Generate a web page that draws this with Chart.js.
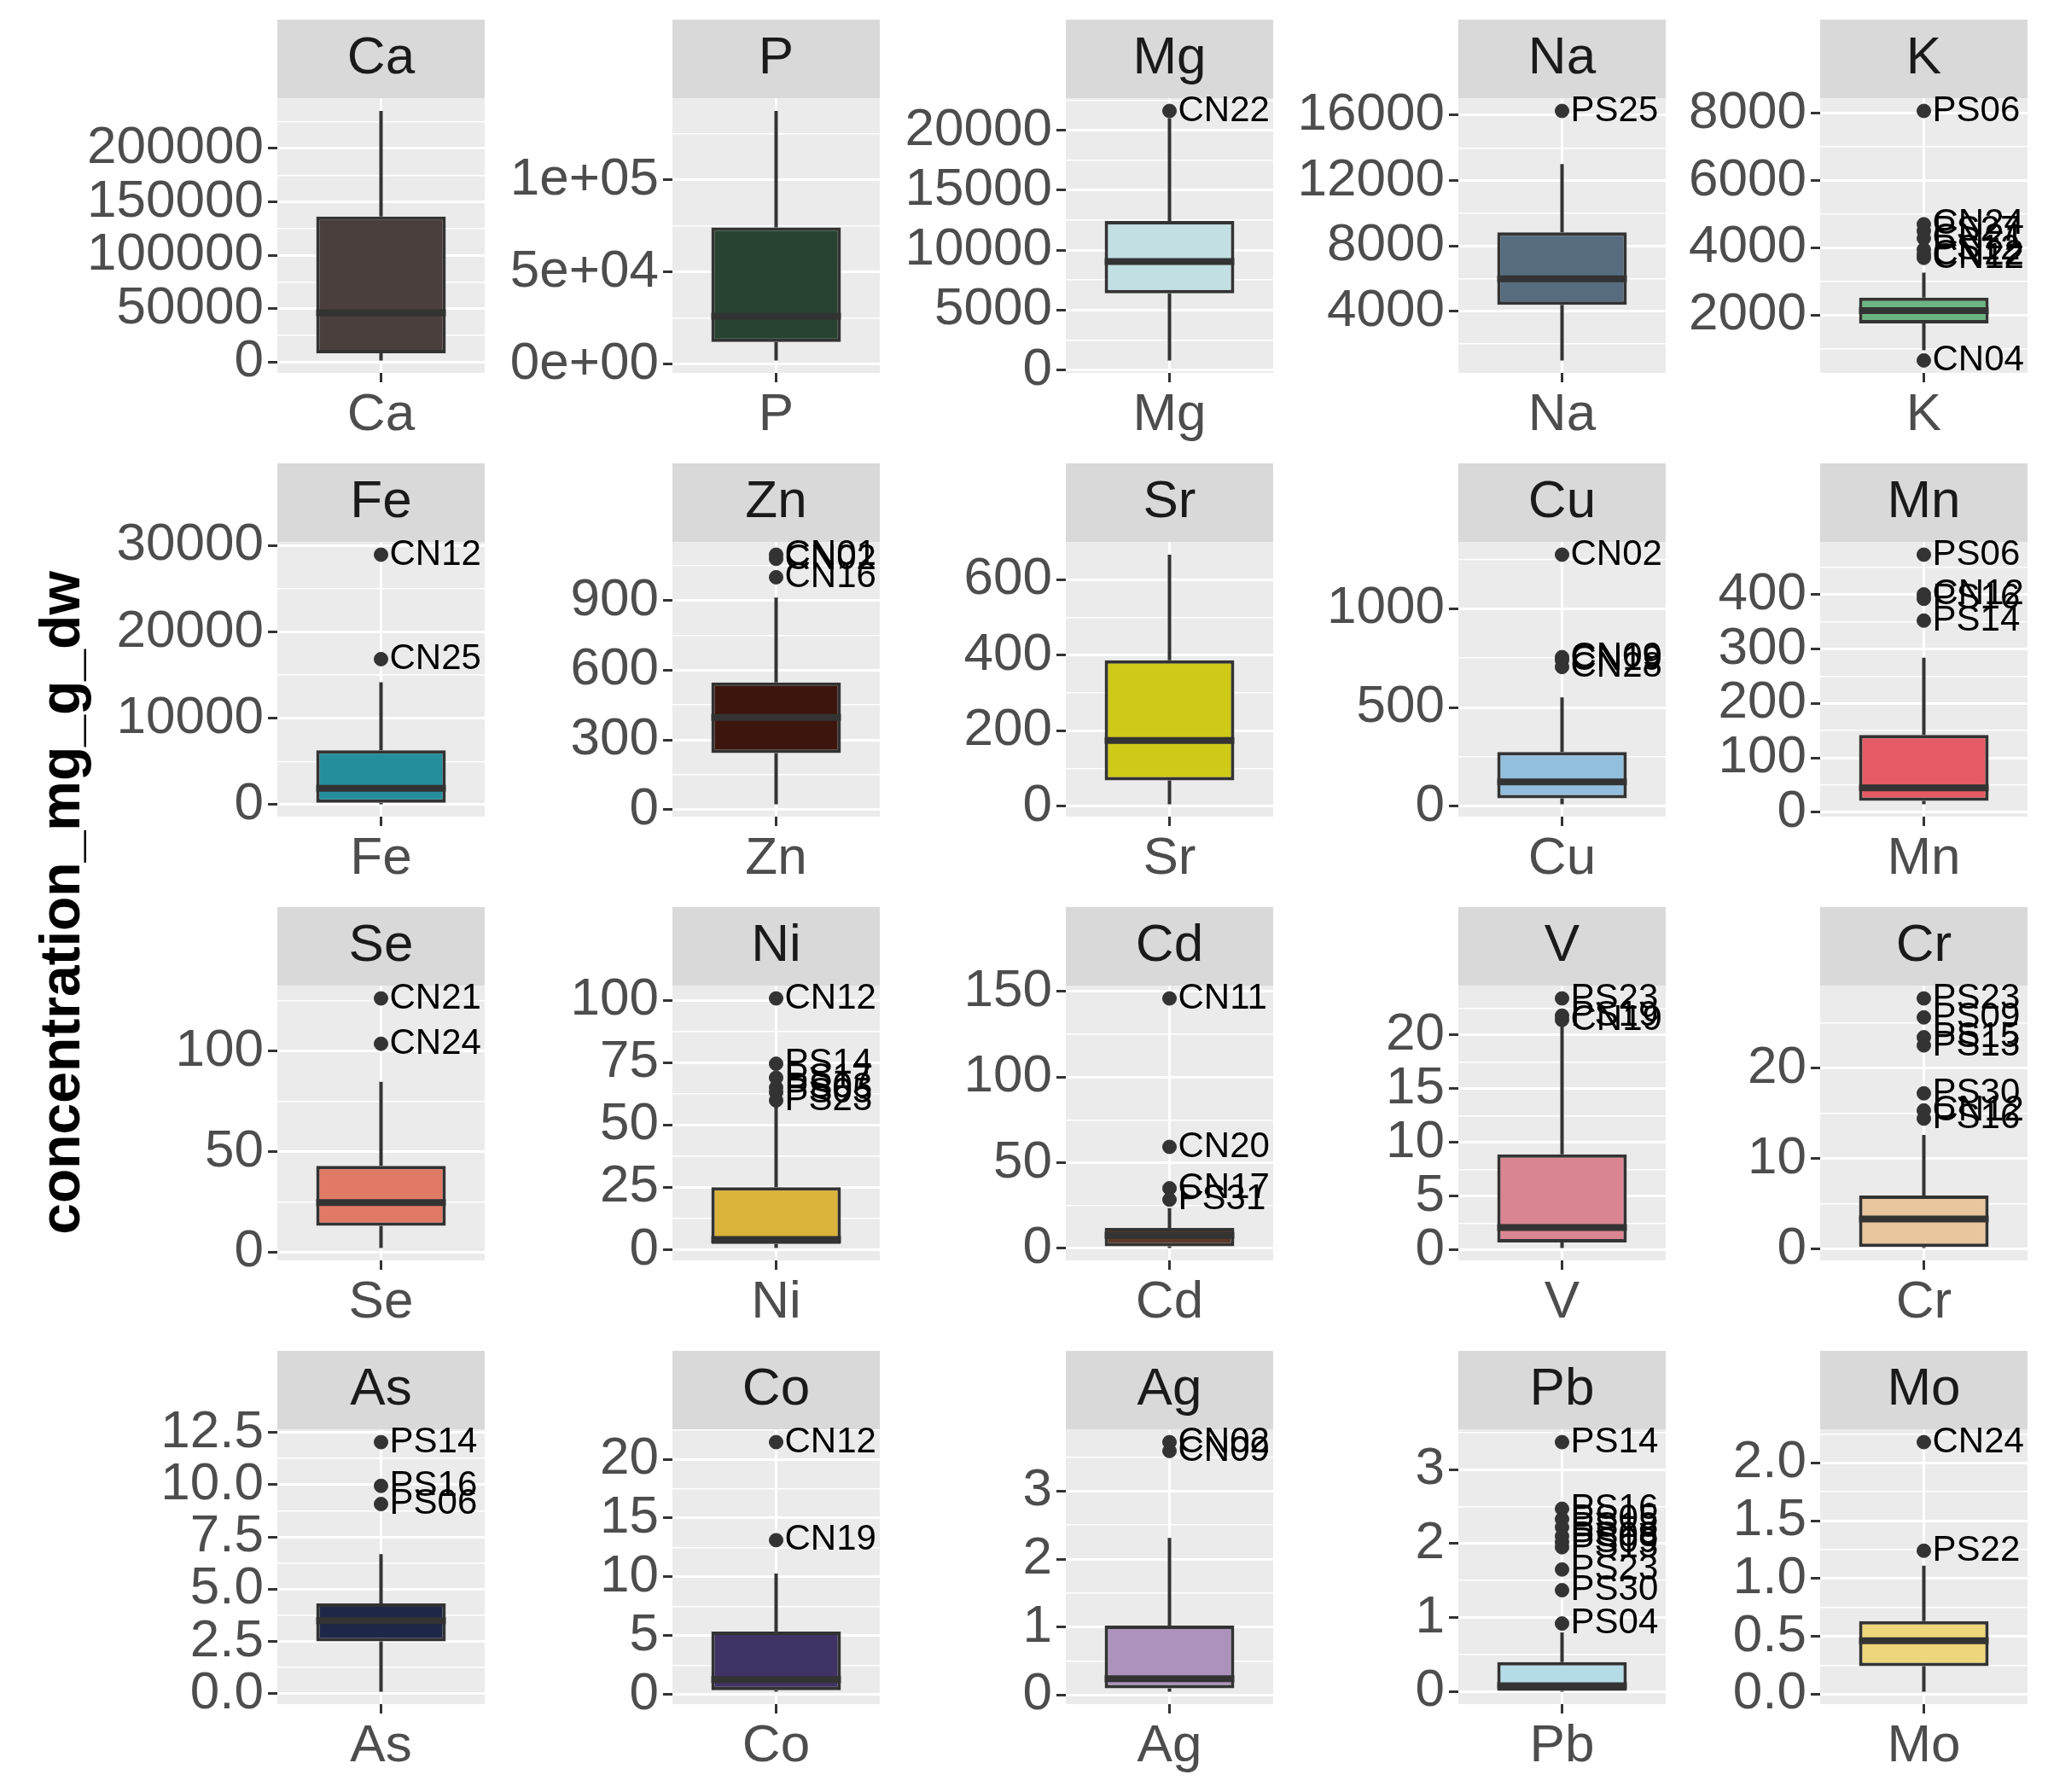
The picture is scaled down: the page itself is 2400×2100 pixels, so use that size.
<!DOCTYPE html>
<html>
<head>
<meta charset="utf-8">
<script src="https://cdn.jsdelivr.net/npm/chart.js@4.4.0/dist/chart.umd.min.js"></script>
<style>
  body { margin: 0; background: #ffffff; }
  #wrap { position: relative; width: 2400px; height: 2100px; overflow: hidden; }
  #wrap canvas { position: absolute; }
  #ytitle {
    position: absolute; left: -428px; top: 1018px; width: 1000px; height: 80px;
    line-height: 80px; text-align: center; transform: rotate(-90deg);
    font: bold 66px "Liberation Sans", Arial, sans-serif; color: #000000;
  }
</style>
</head>
<body>
<div id="wrap"><div id="ytitle">concentration_mg_g_dw</div></div>
<script>
// one box per element
const elements = ['Ca','P','Mg','Na','K','Fe','Zn','Sr','Cu','Mn','Se','Ni','Cd','V','Cr','As','Co','Ag','Pb','Mo'];
const whiskerLow  = [1600, 2000, 800, 980, 950, 50, 24, 5, 10, 15, 2, 0.7, 0.3, 0.2, 0.1, 0.1, 0.25, 0.05, 0, 0.02];
const quart1      = [8300, 12000, 6400, 4380, 1750, 200, 244, 68, 40, 21, 13, 2.3, 1.3, 0.7, 0.2, 2.5, 0.36, 0.10, 0.01, 0.24];
const medians     = [46200, 26000, 9040, 5980, 2130, 1900, 397, 174, 123, 45, 24.6, 4.1, 7.6, 2.1, 3.3, 3.49, 1.27, 0.24, 0.08, 0.46];
const quart3      = [136200, 74300, 12430, 8820, 2520, 6300, 547, 386, 274, 142, 42.9, 25, 11.9, 8.9, 5.9, 4.32, 5.36, 1.02, 0.40, 0.63];
const whiskerHigh = [235100, 137500, 21000, 13010, 3260, 14180, 912, 666, 551, 284, 84.7, 57.5, 23.5, 21.0, 12.6, 6.67, 10.28, 2.31, 0.80, 1.11];

const outlierValues = [
  [], [], [21600], [16260],
  [8070, 4700, 4500, 4280, 3950, 3800, 3700, 650],
  [28950, 16850], [1096, 1078, 999], [], [1274, 755, 740, 705], [473, 400, 392, 352],
  [126.3, 103.7], [100.7, 74.5, 68.9, 65, 63, 59.8], [146, 59.3, 35.1, 28.5], [23.4, 21.8, 21.4],
  [27.7, 25.6, 23.4, 22.5, 17.2, 15.3, 14.4],
  [12.03, 9.94, 9.07], [21.45, 13.12], [3.72, 3.59],
  [3.37, 2.47, 2.33, 2.22, 2.10, 2.02, 1.95, 1.65, 1.37, 0.92], [2.18, 1.24]
];
const outlierNames = [
  [], [], ['CN22'], ['PS25'],
  ['PS06','CN24','PS27','CN21','PS12','CN22','CN12','CN04'],
  ['CN12','CN25'], ['CN01','CN02','CN16'], [], ['CN02','CN09','CN19','CN28'], ['PS06','CN12','PS16','PS14'],
  ['CN21','CN24'], ['CN12','PS14','PS17','PS03','PS05','PS23'], ['CN11','CN20','CN17','PS31'], ['PS23','PS19','CN19'],
  ['PS23','PS09','PS15','PS13','PS30','CN12','PS16'],
  ['PS14','PS16','PS06'], ['CN12','CN19'], ['CN02','CN09'],
  ['PS14','PS16','PS05','PS18','PS08','PS09','PS13','PS23','PS30','PS04'], ['CN24','PS22']
];

const tickValues = [
  [0, 50000, 100000, 150000, 200000], [0, 50000, 100000], [0, 5000, 10000, 15000, 20000],
  [4000, 8000, 12000, 16000], [2000, 4000, 6000, 8000],
  [0, 10000, 20000, 30000], [0, 300, 600, 900], [0, 200, 400, 600], [0, 500, 1000], [0, 100, 200, 300, 400],
  [0, 50, 100], [0, 25, 50, 75, 100], [0, 50, 100, 150], [0, 5, 10, 15, 20], [0, 10, 20],
  [0, 2.5, 5, 7.5, 10, 12.5], [0, 5, 10, 15, 20], [0, 1, 2, 3], [0, 1, 2, 3], [0, 0.5, 1, 1.5, 2]
];
const tickLabels = [
  ['0','50000','100000','150000','200000'], ['0e+00','5e+04','1e+05'], ['0','5000','10000','15000','20000'],
  ['4000','8000','12000','16000'], ['2000','4000','6000','8000'],
  ['0','10000','20000','30000'], ['0','300','600','900'], ['0','200','400','600'], ['0','500','1000'], ['0','100','200','300','400'],
  ['0','50','100'], ['0','25','50','75','100'], ['0','50','100','150'], ['0','5','10','15','20'], ['0','10','20'],
  ['0.0','2.5','5.0','7.5','10.0','12.5'], ['0','5','10','15','20'], ['0','1','2','3'], ['0','1','2','3'], ['0.0','0.5','1.0','1.5','2.0']
];

const fills = ['#4B3F3E','#254330','#C2DFE3','#576D7F','#6AB581','#258E9C','#3C160D','#CECA17','#93BFDE','#E55A64',
               '#E07A64','#D9B33A','#5C3A2A','#D98592','#E9C69E','#1F2748','#3F3366','#AD93BC','#B4DCE6','#EED77A'];

// facet layout
const colLeft = [325, 788, 1249, 1709, 2133];
const rowTop = [23, 543, 1063, 1583];
const LEFTW = 300, PANELW = 243, RIGHTW = 20, STRIPH = 92, PANELH = 322, BOTTOMH = 80;
const FONT = '"Liberation Sans", Arial, sans-serif';

const wrap = document.getElementById('wrap');

elements.forEach((name, i) => {
  const canvas = document.createElement('canvas');
  const W = LEFTW + PANELW + RIGHTW, H = STRIPH + PANELH + BOTTOMH;
  canvas.width = W; canvas.height = H;
  canvas.style.width = W + 'px'; canvas.style.height = H + 'px';
  canvas.style.left = (colLeft[i % 5] - LEFTW) + 'px';
  canvas.style.top = rowTop[Math.floor(i / 5)] + 'px';
  wrap.appendChild(canvas);

  const all = [whiskerLow[i], whiskerHigh[i]].concat(outlierValues[i]);
  const lo = Math.min(...all), hi = Math.max(...all);
  const ymin = lo - 0.05 * (hi - lo), ymax = hi + 0.05 * (hi - lo);

  const tv = tickValues[i];
  const step = tv[1] - tv[0];
  const minors = [];
  for (let v = tv[0] - step / 2; v <= ymax; v += step) {
    if (v >= ymin && !tv.some(t => Math.abs(t - v) < step * 1e-6)) minors.push(v);
  }

  const panelBg = {
    id: 'panelBg',
    beforeDraw(chart) {
      const a = chart.chartArea, c = chart.ctx;
      c.save();
      c.fillStyle = '#D9D9D9';
      c.fillRect(a.left, 0, a.right - a.left, a.top);
      c.fillStyle = '#EBEBEB';
      c.fillRect(a.left, a.top, a.right - a.left, a.bottom - a.top);
      c.restore();
    }
  };
  const outlierText = {
    id: 'outlierText',
    afterDatasetsDraw(chart) {
      const meta = chart.getDatasetMeta(4), c = chart.ctx;
      c.save();
      c.font = '42px ' + FONT;
      c.fillStyle = '#000000';
      c.textBaseline = 'middle';
      c.textAlign = 'left';
      meta.data.forEach((pt, j) => c.fillText(outlierNames[i][j], pt.x + 10, pt.y));
      c.restore();
    }
  };

  new Chart(canvas, {
    type: 'bar',
    data: {
      labels: [name],
      datasets: [
        {
          type: 'bar', data: [[quart1[i], quart3[i]]], xAxisID: 'x', yAxisID: 'y', grouped: false,
          backgroundColor: fills[i], borderColor: '#333333', borderWidth: 4, borderSkipped: false,
          barPercentage: 0.625, categoryPercentage: 1, order: 4
        },
        {
          type: 'line', data: [{x: 1, y: whiskerLow[i]}, {x: 1, y: quart1[i]}], xAxisID: 'xl', yAxisID: 'y',
          borderColor: '#333333', borderWidth: 4, pointRadius: 0, order: 5
        },
        {
          type: 'line', data: [{x: 1, y: quart3[i]}, {x: 1, y: whiskerHigh[i]}], xAxisID: 'xl', yAxisID: 'y',
          borderColor: '#333333', borderWidth: 4, pointRadius: 0, order: 5
        },
        {
          type: 'line', data: [{x: 0.625, y: medians[i]}, {x: 1.375, y: medians[i]}], xAxisID: 'xl', yAxisID: 'y',
          borderColor: '#333333', borderWidth: 8, borderCapStyle: 'butt', pointRadius: 0, order: 2
        },
        {
          type: 'scatter', data: outlierValues[i].map(v => ({x: 1, y: v})), xAxisID: 'xl', yAxisID: 'y',
          backgroundColor: '#333333', borderColor: '#333333', pointRadius: 8, showLine: false, order: 1
        }
      ]
    },
    options: {
      responsive: false,
      devicePixelRatio: 1,
      animation: false,
      layout: { padding: { left: 0, right: RIGHTW, top: 0, bottom: 0 } },
      plugins: {
        legend: { display: false },
        tooltip: { enabled: false },
        title: {
          display: true, text: name, fullSize: false, color: '#1A1A1A',
          font: { family: FONT, size: 62, weight: 'normal', lineHeight: 1.2 },
          padding: { top: 9, bottom: 9 }
        }
      },
      scales: {
        x: {
          type: 'category', offset: true,
          grid: { offset: false, color: '#FFFFFF', lineWidth: 3, tickColor: '#333333', tickLength: 11, tickWidth: 3 },
          border: { display: false },
          ticks: { color: '#4D4D4D', font: { family: FONT, size: 62 }, padding: 2 },
          afterFit: s => { s.height = BOTTOMH; }
        },
        xl: { type: 'linear', min: 0.4, max: 1.6, offset: false, grace: 0, display: false },
        y: {
          type: 'linear', position: 'left', min: ymin, max: ymax,
          afterBuildTicks: s => { s.ticks = tv.map(v => ({value: v})); },
          grid: { color: '#FFFFFF', lineWidth: 3, tickColor: '#333333', tickLength: 11, tickWidth: 3 },
          border: { display: false },
          ticks: {
            autoSkip: false, color: '#4D4D4D', font: { family: FONT, size: 62 }, padding: 5,
            callback: (v, k) => tickLabels[i][k]
          },
          afterFit: s => { s.width = LEFTW; }
        },
        ym: {
          type: 'linear', position: 'left', min: ymin, max: ymax,
          afterBuildTicks: s => { s.ticks = minors.map(v => ({value: v})); },
          grid: { color: '#FFFFFF', lineWidth: 1.5, drawTicks: false },
          border: { display: false },
          ticks: { display: false },
          afterFit: s => { s.width = 0; }
        }
      }
    },
    plugins: [panelBg, outlierText]
  });
});
</script>
</body>
</html>
